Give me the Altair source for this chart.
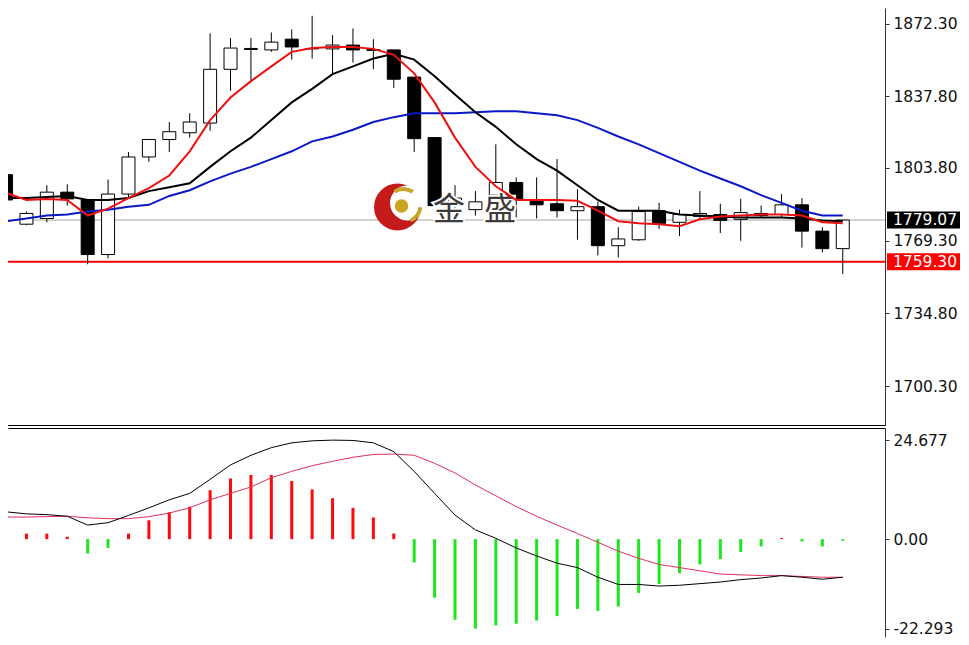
import altair as alt
import pandas as pd

# ---------------- data ----------------
idx = list(range(42))
opens = [1800.6, 1777.1, 1779.8, 1792.3, 1788.6, 1762.7, 1791.4, 1809.0, 1817.3, 1820.5,
         1825.1, 1850.6, 1860.0, 1859.8, 1864.9, 1860.5, 1860.3, 1862.1, 1860.0, 1859.8,
         1846.9, 1818.2, 1787.2, 1784.0, 1790.9, 1796.9, 1788.2, 1786.8, 1783.5, 1785.4,
         1766.9, 1769.7, 1783.5, 1778.0, 1780.8, 1781.7, 1779.4, 1782.2, 1781.7, 1786.3,
         1773.8, 1765.5]
highs = [1802.0, 1783.1, 1795.6, 1796.0, 1788.6, 1798.3, 1811.3, 1817.3, 1825.6, 1829.8,
         1867.7, 1865.4, 1865.4, 1868.1, 1869.5, 1876.0, 1866.8, 1870.0, 1864.9, 1859.8,
         1846.9, 1818.2, 1795.6, 1792.8, 1815.0, 1799.3, 1799.3, 1808.0, 1793.7, 1787.7,
         1775.7, 1785.4, 1787.2, 1784.0, 1792.8, 1786.8, 1789.1, 1785.9, 1791.4, 1789.5,
         1775.7, 1779.07]
lows = [1787.2, 1776.6, 1778.0, 1785.9, 1758.1, 1760.9, 1789.1, 1806.7, 1811.3, 1818.2,
        1821.4, 1840.4, 1844.6, 1858.9, 1855.2, 1855.7, 1848.3, 1853.8, 1850.6, 1841.8,
        1811.3, 1785.9, 1782.6, 1781.2, 1780.3, 1780.3, 1779.8, 1780.3, 1769.7, 1762.3,
        1761.3, 1769.2, 1774.8, 1771.5, 1779.4, 1772.9, 1769.2, 1780.3, 1780.3, 1766.0,
        1763.7, 1753.5]
closes = [1788.6, 1782.2, 1792.3, 1789.1, 1762.7, 1791.4, 1809.0, 1817.3, 1821.0, 1825.6,
          1850.6, 1860.7, 1860.5, 1863.5, 1861.2, 1860.3, 1862.1, 1859.8, 1859.6, 1845.9,
          1817.7, 1785.9, 1789.5, 1787.7, 1796.9, 1788.6, 1786.3, 1783.5, 1785.4, 1766.9,
          1770.1, 1783.1, 1777.5, 1781.7, 1782.2, 1778.9, 1782.6, 1781.2, 1786.3, 1773.8,
          1765.5, 1779.07]

ma_red = [1791.9, 1788.6, 1789.1, 1788.6, 1781.2, 1784.5, 1789.5, 1794.2, 1800.2, 1811.7,
          1826.5, 1837.2, 1845.0, 1852.0, 1858.9, 1860.7, 1861.2, 1861.2, 1860.3, 1857.5,
          1848.7, 1834.9, 1818.2, 1804.3, 1795.1, 1788.6, 1788.6, 1788.6, 1788.2, 1783.5,
          1778.5, 1777.5, 1777.1, 1776.1, 1779.4, 1780.8, 1781.2, 1781.7, 1781.7, 1781.2,
          1778.0, 1777.5]
ma_black = [1789.5, 1789.5, 1790.0, 1790.5, 1788.6, 1788.6, 1789.5, 1792.8, 1794.6, 1796.5,
            1804.3, 1811.7, 1818.2, 1826.5, 1834.9, 1841.3, 1848.3, 1852.0, 1855.7, 1858.0,
            1855.2, 1847.3, 1838.6, 1830.2, 1823.3, 1815.0, 1808.0, 1802.5, 1795.6, 1788.6,
            1783.5, 1783.5, 1783.5, 1781.7, 1781.2, 1780.8, 1780.3, 1780.3, 1780.3, 1779.8,
            1778.9, 1778.5]
ma_blue = [1778.5, 1779.8, 1781.2, 1781.7, 1783.1, 1784.0, 1785.4, 1786.3, 1790.5, 1793.2,
           1797.4, 1801.1, 1804.3, 1808.0, 1811.7, 1816.4, 1818.7, 1821.9, 1825.6, 1827.9,
           1829.8, 1829.8, 1829.8, 1830.2, 1830.7, 1830.7, 1829.8, 1828.8, 1826.5, 1822.8,
           1818.7, 1815.0, 1810.8, 1806.7, 1802.5, 1798.8, 1795.1, 1790.9, 1787.2, 1783.5,
           1781.2, 1781.2]

hist = [1.4, 1.37, 1.37, 0.6, -3.6, -2.2, 1.37, 4.7, 6.7, 8.1,
        12.2, 15.1, 16.0, 16.0, 14.5, 12.4, 10.2, 7.8, 5.4, 1.4,
        -5.8, -14.6, -20.1, -22.293, -21.5, -21.1, -20.3, -19.2, -17.4, -17.9,
        -16.8, -13.4, -11.2, -8.5, -6.3, -5.0, -3.2, -1.8, 0.25, -0.6,
        -1.8, -0.4]
macd = [6.8, 6.3, 6.1, 5.7, 3.5, 4.1, 5.9, 7.8, 9.8, 11.4,
        14.9, 18.5, 20.9, 22.8, 24.0, 24.5, 24.677, 24.6, 24.0, 21.8,
        16.9, 11.4, 6.0, 2.3, 0.2, -2.2, -4.2, -6.0, -7.1, -9.5,
        -11.3, -11.3, -11.7, -11.5, -11.1, -10.7, -10.1, -9.7, -9.1, -9.5,
        -10.0, -9.5]
signal = [5.5, 5.5, 5.6, 5.7, 5.3, 5.1, 5.1, 5.6, 6.5, 7.8,
          9.8, 11.4, 13.0, 15.3, 16.9, 18.3, 19.4, 20.4, 21.1, 21.2,
          20.9, 18.9, 16.5, 13.5, 10.8, 8.1, 5.7, 3.5, 1.4, -0.8,
          -3.0, -4.8, -6.3, -7.1, -7.9, -8.7, -8.9, -9.1, -9.1, -9.3,
          -9.5, -9.5]

price_ticks = [1872.30, 1837.80, 1803.80, 1769.30, 1734.80, 1700.30]
macd_ticks = [24.677, 0.0, -22.293]
tag_prices = [1779.07, 1759.30]
tag_texts = ["1779.07", "1759.30"]
tag_colors = ["black", "#ff0000"]
watermark = ["金", "盛"]

# ---------------- tables ----------------
candles = pd.DataFrame({"i": idx, "o": opens, "h": highs, "l": lows, "c": closes})
red_df = pd.DataFrame({"i": idx, "v": ma_red})
black_df = pd.DataFrame({"i": idx, "v": ma_black})
blue_df = pd.DataFrame({"i": idx, "v": ma_blue})
macd_df = pd.DataFrame({"i": idx, "h": hist, "m": macd, "s": signal})
tags = pd.DataFrame({"v": tag_prices, "t": tag_texts, "col": tag_colors})
last_df = pd.DataFrame({"v": [tag_prices[0]]})
level_df = pd.DataFrame({"v": [tag_prices[1]]})

W, H1, H2 = 877, 417, 209
FONT = "DejaVu Sans"
LFS = 15.5

xs = alt.Scale(domain=[0.0964, 43.07], nice=False, zero=False, padding=0)
ys = alt.Scale(domain=[1681.8, 1879.7], nice=False, zero=False)
ms = alt.Scale(domain=[-24.4, 27.7], nice=False, zero=False)

xa_top = alt.Axis(orient="bottom", labels=False, ticks=False, grid=False,
                  domainColor="#000000", domainWidth=1, title=None)
xa_bot = alt.Axis(orient="top", labels=False, ticks=False, grid=False,
                  domainColor="#000000", domainWidth=1, title=None)
ya = alt.Axis(orient="right", values=price_ticks, format=".2f", title=None, grid=False,
              domainColor="#333333", tickColor="#333333", tickSize=4, labelPadding=4,
              labelFont=FONT, labelFontSize=LFS, labelColor="#111111",
              labelOverlap=False, labelFlush=False, labelBound=False)
ma_axis = alt.Axis(orient="right", values=macd_ticks, title=None, grid=False,
                   labelExpr="datum.value == 0 ? '0.00' : (datum.value < 0 ? '-' + format(-datum.value, '.3f') : format(datum.value, '.3f'))",
                   domainColor="#333333", tickColor="#333333", tickSize=4, labelPadding=4,
                   labelFont=FONT, labelFontSize=LFS, labelColor="#111111",
                   labelOverlap=False, labelFlush=False, labelBound=False)

X = alt.X("i:Q", scale=xs, axis=xa_top)

# ---------------- upper panel ----------------
last_line = alt.Chart(last_df).mark_rule(color="#a8a8a8", strokeWidth=1, clip=True).encode(
    y=alt.Y("v:Q", scale=ys, axis=ya))
level_line = alt.Chart(level_df).mark_rule(color="#ff0000", strokeWidth=2, clip=True).encode(
    y=alt.Y("v:Q", scale=ys, axis=ya))

wicks = alt.Chart(candles).mark_rule(color="black", strokeWidth=1, clip=True).encode(
    x=X, y=alt.Y("l:Q", scale=ys, axis=ya), y2="h:Q")
bodies = alt.Chart(candles).mark_bar(size=13, stroke="black", strokeWidth=1, clip=True).encode(
    x=X, y=alt.Y("o:Q", scale=ys, axis=ya), y2="c:Q",
    fill=alt.condition("datum.c >= datum.o", alt.value("white"), alt.value("black")))

def ma_line(df, color):
    return alt.Chart(df).mark_line(color=color, strokeWidth=2, clip=True).encode(
        x=X, y=alt.Y("v:Q", scale=ys, axis=ya))

blue_line = ma_line(blue_df, "#0a18c8")
black_line = ma_line(black_df, "#000000")
red_line = ma_line(red_df, "#ee1111")

# watermark logo + text (decoration)
wm_base = alt.Chart(pd.DataFrame({"k": [0]}))
logo_red = wm_base.mark_point(filled=True, shape="circle", size=2209, color="#c41a1a", opacity=1).encode(
    x=alt.value(389.5), y=alt.value(199))
logo_white = wm_base.mark_point(filled=True, shape="circle", size=1225, color="white", opacity=1).encode(
    x=alt.value(399.5), y=alt.value(195))
logo_arc1 = wm_base.mark_arc(radius=18, radius2=14, theta=5.7, theta2=6.9, color="#c9a62a").encode(
    x=alt.value(395.5), y=alt.value(197))
logo_arc2 = wm_base.mark_arc(radius=19, radius2=15, theta=1.7, theta2=2.7, color="#c9a62a").encode(
    x=alt.value(395.5), y=alt.value(197))
logo_gold = wm_base.mark_point(filled=True, shape="circle", size=182, color="#c8a420", opacity=1).encode(
    x=alt.value(393.5), y=alt.value(198))

wm_df = pd.DataFrame({"t": watermark, "k": [0, 1]})
wm_x = alt.X("k:Q", scale=alt.Scale(domain=[0, 1], range=[441, 492]), axis=None)
wm_halo = alt.Chart(wm_df).mark_text(font="Noto Sans CJK SC", fontSize=32, color="white",
                                      stroke="white", strokeWidth=4, baseline="middle").encode(
    x=wm_x, y=alt.value(202), text="t:N")
wm_text = alt.Chart(wm_df).mark_text(font="Noto Sans CJK SC", fontSize=32, color="#3c3c3c",
                                      baseline="middle").encode(
    x=wm_x, y=alt.value(202), text="t:N")

tag_box = alt.Chart(tags).mark_tick(orient="horizontal", size=73, thickness=17, opacity=1, clip=False).encode(
    x=alt.value(W + 38.5), y=alt.Y("v:Q", scale=ys, axis=ya), color=alt.Color("col:N", scale=None))
tag_text = alt.Chart(tags).mark_text(align="left", baseline="middle", font=FONT, fontSize=LFS,
                                     color="white", clip=False).encode(
    x=alt.value(W + 8), y=alt.Y("v:Q", scale=ys, axis=ya), text="t:N")

upper = alt.layer(
    last_line, level_line, wicks, bodies,
    logo_red, logo_white, logo_arc1, logo_arc2, logo_gold, wm_halo, wm_text,
    blue_line, black_line, red_line, tag_box, tag_text
).resolve_scale(x="independent").properties(width=W, height=H1)

# ---------------- lower panel ----------------
X2 = alt.X("i:Q", scale=xs, axis=xa_bot)
bars = alt.Chart(macd_df).mark_bar(size=3, clip=True).encode(
    x=X2, y=alt.Y("h:Q", scale=ms, axis=ma_axis), y2=alt.datum(0),
    color=alt.condition("datum.h >= 0", alt.value("#ff0a0a"), alt.value("#1ee61e")))
macd_line = alt.Chart(macd_df).mark_line(color="#000000", strokeWidth=1, clip=True).encode(
    x=X2, y=alt.Y("m:Q", scale=ms, axis=ma_axis))
sig_line = alt.Chart(macd_df).mark_line(color="#e0305a", strokeWidth=1, clip=True).encode(
    x=X2, y=alt.Y("s:Q", scale=ms, axis=ma_axis))

lower = alt.layer(bars, sig_line, macd_line).properties(width=W, height=H2)

chart = alt.vconcat(upper, lower, spacing=3).properties(
    padding=0, background="white"
).configure_view(stroke=None)

chart.save("out.html", embed_options={"renderer": "svg", "actions": False})
